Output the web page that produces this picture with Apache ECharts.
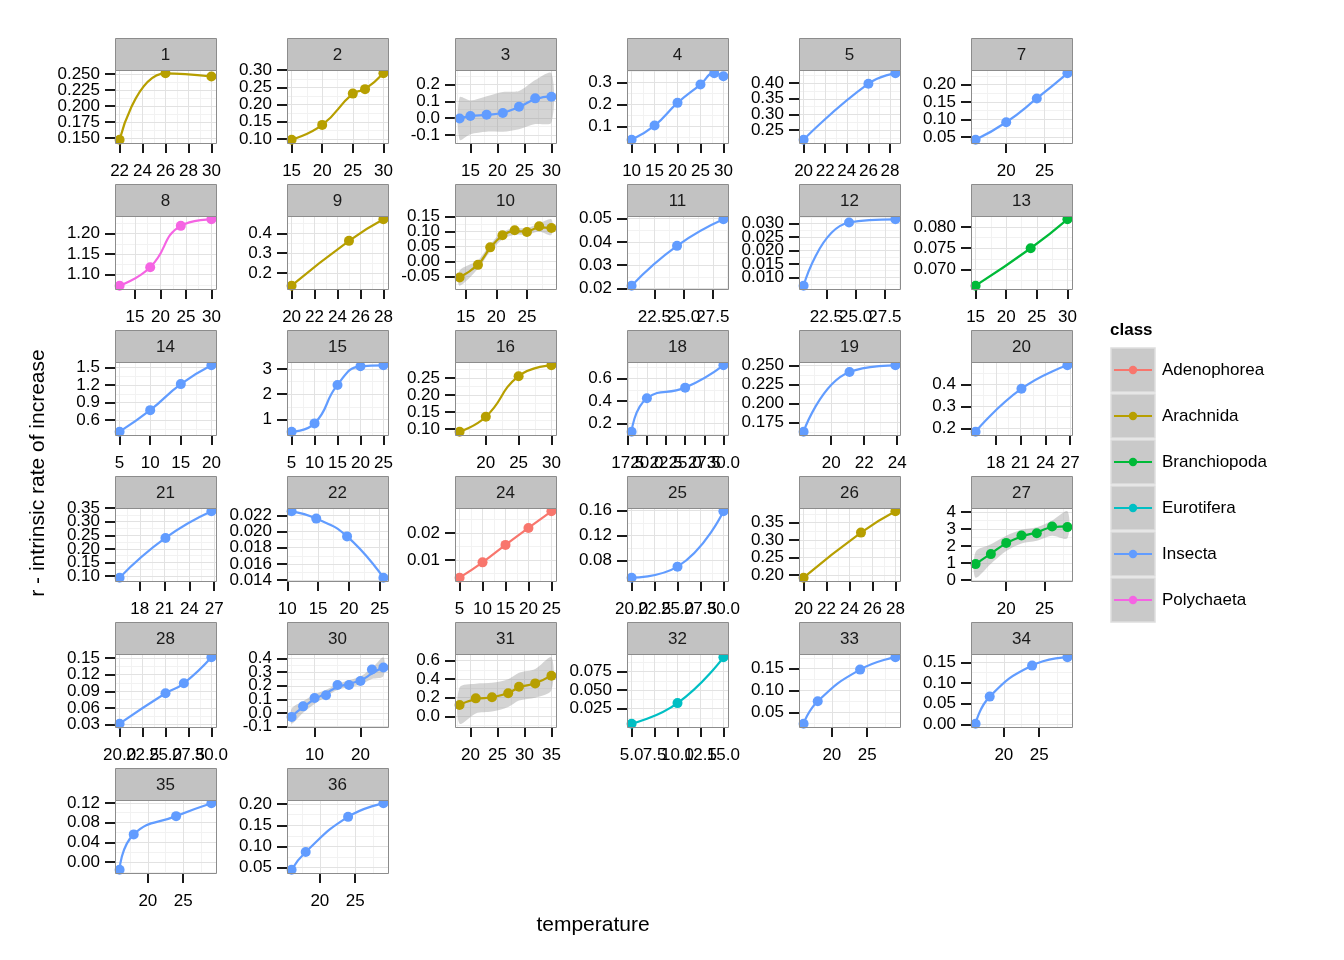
<!DOCTYPE html>
<html><head><meta charset="utf-8">
<script src="https://cdn.jsdelivr.net/npm/echarts@6/dist/echarts.min.js"></script>
<style>html,body{margin:0;padding:0;background:#fff}#c{width:1344px;height:960px}</style>
</head><body><div id="c"></div>
<script>
// ---------------- DATA ----------------
const panelIds = [1,2,3,4,5,7,8,9,10,11,12,13,14,15,16,18,19,20,21,22,24,25,26,27,28,30,31,32,33,34,35,36];
const panelClass = ['Arachnida','Arachnida','Insecta','Insecta','Insecta','Insecta',
  'Polychaeta','Arachnida','Arachnida','Insecta','Insecta','Branchiopoda',
  'Insecta','Insecta','Arachnida','Insecta','Insecta','Insecta',
  'Insecta','Insecta','Adenophorea','Insecta','Arachnida','Branchiopoda',
  'Insecta','Insecta','Arachnida','Eurotifera','Insecta','Insecta',
  'Insecta','Insecta'];
const classNames = ['Adenophorea','Arachnida','Branchiopoda','Eurotifera','Insecta','Polychaeta'];
const classColors = ['#F8766D','#B79F00','#00BA38','#00BFC4','#619CFF','#F564E3'];

const temperature = [
  [22,26,30],
  [15,20,25,27,30],
  [13,15,18,21,24,27,30],
  [10,15,20,25,28,30],
  [20,26,28.5],
  [16,20,24,28],
  [12,18,24,30],
  [20,25,28],
  [14,17,19,21,23,25,27,29],
  [20.56,24.44,28.4],
  [20.56,24.44,28.4],
  [15,24,30],
  [5,10,15,20],
  [5,10,15,20,25],
  [16,20,25,30],
  [18,20,25,30],
  [18.33,21.11,23.89],
  [15.56,21.11,26.67],
  [15.56,21.11,26.67],
  [10.7,14.7,19.7,25.6],
  [5,10,15,20,25],
  [20,25,30],
  [20,25,28],
  [16,18,20,22,24,26,28],
  [20,25,27,30],
  [5,7.5,10,12.5,15,17.5,20,22.5,25],
  [18,21,24,27,29,32,35],
  [5,10,15],
  [16,18,24,29],
  [16,18,24,29],
  [16,18,24,29],
  [16,18,24,29]
];
const rate = [
  [0.1475,0.251,0.246],
  [0.098,0.141,0.232,0.245,0.291],
  [-0.002,0.013,0.021,0.031,0.067,0.117,0.127],
  [0.040,0.104,0.207,0.290,0.341,0.328],
  [0.220,0.398,0.431],
  [0.042,0.092,0.160,0.232],
  [1.073,1.118,1.219,1.235],
  [0.137,0.362,0.470],
  [-0.053,-0.011,0.047,0.087,0.104,0.098,0.117,0.111],
  [0.0212,0.0383,0.0497],
  [0.0069,0.0304,0.0316],
  [0.0662,0.0750,0.0818],
  [0.40,0.77,1.217,1.54],
  [0.51,0.84,2.37,3.11,3.15],
  [0.092,0.136,0.255,0.287],
  [0.125,0.424,0.520,0.720],
  [0.1627,0.2412,0.250],
  [0.185,0.380,0.486],
  [0.094,0.240,0.338],
  [0.0225,0.0216,0.0194,0.0143],
  [0.0034,0.0091,0.0156,0.0219,0.0281],
  [0.0526,0.0703,0.159],
  [0.192,0.321,0.382],
  [0.93,1.52,2.18,2.61,2.75,3.15,3.11],
  [0.0318,0.0864,0.1043,0.151],
  [-0.03,0.048,0.11,0.13,0.205,0.205,0.235,0.32,0.335],
  [0.122,0.193,0.204,0.247,0.318,0.354,0.436],
  [0.0049,0.0326,0.0942],
  [0.025,0.076,0.148,0.176],
  [0.0016,0.067,0.142,0.162],
  [-0.0156,0.056,0.093,0.119],
  [0.045,0.087,0.170,0.202]
];

// panels with a smoothed fit and confidence ribbon
const ribbonPanels = [3,10,27,30,31];
const fitted = [
  [-0.002,0.012,0.020,0.032,0.066,0.112,0.130],
  [-0.052,-0.010,0.045,0.085,0.100,0.100,0.113,0.110],
  [0.93,1.55,2.15,2.55,2.80,3.10,3.15],
  [-0.025,0.0425,0.100,0.145,0.190,0.215,0.240,0.290,0.340],
  [0.125,0.185,0.205,0.250,0.310,0.355,0.440]
];
const bandLow = [
  [-0.127,-0.095,-0.080,-0.080,-0.065,-0.035,-0.025],
  [-0.080,-0.024,0.033,0.073,0.089,0.089,0.100,0.088],
  [0.13,0.95,1.70,2.15,2.30,2.60,2.45],
  [-0.080,0.000,0.065,0.120,0.168,0.190,0.210,0.250,0.270],
  [-0.080,0.030,0.050,0.100,0.170,0.200,0.280]
];
const bandHigh = [
  [0.123,0.105,0.130,0.155,0.160,0.225,0.265],
  [-0.030,0.004,0.057,0.097,0.111,0.111,0.126,0.140],
  [1.65,2.10,2.60,2.95,3.10,3.50,4.04],
  [0.030,0.085,0.135,0.170,0.212,0.240,0.270,0.330,0.410],
  [0.310,0.350,0.360,0.400,0.470,0.510,0.635]
];

const xTickLabels = [
  ['22','24','26','28','30'],
  ['15','20','25','30'],
  ['15','20','25','30'],
  ['10','15','20','25','30'],
  ['20','22','24','26','28'],
  ['20','25'],
  ['15','20','25','30'],
  ['20','22','24','26','28'],
  ['15','20','25'],
  ['22.5','25.0','27.5'],
  ['22.5','25.0','27.5'],
  ['15','20','25','30'],
  ['5','10','15','20'],
  ['5','10','15','20','25'],
  ['20','25','30'],
  ['17.5','20.0','22.5','25.0','27.5','30.0'],
  ['20','22','24'],
  ['18','21','24','27'],
  ['18','21','24','27'],
  ['10','15','20','25'],
  ['5','10','15','20','25'],
  ['20.0','22.5','25.0','27.5','30.0'],
  ['20','22','24','26','28'],
  ['20','25'],
  ['20.0','22.5','25.0','27.5','30.0'],
  ['10','20'],
  ['20','25','30','35'],
  ['5.0','7.5','10.0','12.5','15.0'],
  ['20','25'],
  ['20','25'],
  ['20','25'],
  ['20','25']
];
const yTickLabels = [
  ['0.150','0.175','0.200','0.225','0.250'],
  ['0.10','0.15','0.20','0.25','0.30'],
  ['-0.1','0.0','0.1','0.2'],
  ['0.1','0.2','0.3'],
  ['0.25','0.30','0.35','0.40'],
  ['0.05','0.10','0.15','0.20'],
  ['1.10','1.15','1.20'],
  ['0.2','0.3','0.4'],
  ['-0.05','0.00','0.05','0.10','0.15'],
  ['0.02','0.03','0.04','0.05'],
  ['0.010','0.015','0.020','0.025','0.030'],
  ['0.070','0.075','0.080'],
  ['0.6','0.9','1.2','1.5'],
  ['1','2','3'],
  ['0.10','0.15','0.20','0.25'],
  ['0.2','0.4','0.6'],
  ['0.175','0.200','0.225','0.250'],
  ['0.2','0.3','0.4'],
  ['0.10','0.15','0.20','0.25','0.30','0.35'],
  ['0.014','0.016','0.018','0.020','0.022'],
  ['0.01','0.02'],
  ['0.08','0.12','0.16'],
  ['0.20','0.25','0.30','0.35'],
  ['0','1','2','3','4'],
  ['0.03','0.06','0.09','0.12','0.15'],
  ['-0.1','0.0','0.1','0.2','0.3','0.4'],
  ['0.0','0.2','0.4','0.6'],
  ['0.025','0.050','0.075'],
  ['0.05','0.10','0.15'],
  ['0.00','0.05','0.10','0.15'],
  ['0.00','0.04','0.08','0.12'],
  ['0.05','0.10','0.15','0.20']
];

// ---------------- LAYOUT / STYLE ----------------
const COL_LEFT = [115,287,455,627,799,971];
const ROW_TOP = [70,216,362,508,654,800];
const PW = 101, PH = 73, STRIP_H = 32;
const FONT = '"Liberation Sans", Arial, Helvetica, sans-serif';
const TICK_FS = 17;
const RIBBON_FILL = 'rgba(153,153,153,0.42)';

function expand(vals){
  const mn = Math.min(...vals), mx = Math.max(...vals), r = (mx - mn) || 1;
  return [mn - 0.05*r, mx + 0.05*r];
}
function minorValues(ticks, lo, hi){
  const s = ticks[1] - ticks[0], out = [];
  for (let k = 0; k <= ticks.length; k++){
    const v = +(ticks[0] - s/2 + k*s).toFixed(10);
    if (v >= lo && v <= hi) out.push(v);
  }
  return out;
}
function labelFmt(labels){
  return v => { for (const l of labels){ if (Math.abs(Number(l) - v) < 1e-9) return l; } return ''; };
}
// the axis ends carry empty placeholder labels/ticks which ECharts' min/max
// label rule hides, so that every real tick label is kept (as in the reference)
function withEnds(vals, ext){ return [ext[0]].concat(vals, [ext[1]]); }

const grids = [], xAxes = [], yAxes = [], series = [], elements = [];

panelIds.forEach((id, i) => {
  const col = i % 6, row = Math.floor(i / 6);
  const L = COL_LEFT[col], T = ROW_TOP[row];
  const color = classColors[classNames.indexOf(panelClass[i])];
  const xs = temperature[i], ys = rate[i];
  const ri = ribbonPanels.indexOf(id);
  const lineY = ri >= 0 ? fitted[ri] : ys;
  let yAll = ys.concat(lineY);
  if (ri >= 0) yAll = yAll.concat(bandLow[ri], bandHigh[ri]);
  const xr = expand(xs), yr = expand(yAll);
  const xv = xTickLabels[i].map(Number), yv = yTickLabels[i].map(Number);
  const xm = minorValues(xv, xr[0], xr[1]), ym = minorValues(yv, yr[0], yr[1]);
  const xvE = withEnds(xv, xr), yvE = withEnds(yv, yr);

  grids.push({left: L, top: T, width: PW, height: PH, show: false, containLabel: false, outerBoundsMode: 'none'});
  const gi = grids.length - 1;

  // major axes
  xAxes.push({type: 'value', gridIndex: gi, min: xr[0], max: xr[1], position: 'bottom', z: 1,
    axisLine: {show: false, onZero: false},
    axisTick: {show: true, inside: false, length: 10, customValues: xvE, lineStyle: {color: '#1a1a1a', width: 2}},
    axisLabel: {show: true, customValues: xvE, showMinLabel: false, showMaxLabel: false,
      formatter: labelFmt(xTickLabels[i]), color: '#000', fontSize: TICK_FS, fontFamily: FONT, margin: 20, hideOverlap: false},
    splitLine: {show: true, lineStyle: {color: '#e2e2e2', width: 1}}});
  yAxes.push({type: 'value', gridIndex: gi, min: yr[0], max: yr[1], position: 'left', z: 1,
    axisLine: {show: false, onZero: false},
    axisTick: {show: true, inside: false, length: 10, customValues: yvE, lineStyle: {color: '#1a1a1a', width: 2}},
    axisLabel: {show: true, customValues: yvE, showMinLabel: false, showMaxLabel: false,
      formatter: labelFmt(yTickLabels[i]), color: '#000', fontSize: TICK_FS, fontFamily: FONT, margin: 15, hideOverlap: false},
    splitLine: {show: true, lineStyle: {color: '#e2e2e2', width: 1}}});
  const xa = xAxes.length - 1, ya = yAxes.length - 1;
  // minor grid axes
  xAxes.push({type: 'value', gridIndex: gi, min: xr[0], max: xr[1], position: 'top', z: 0,
    axisLine: {show: false, onZero: false}, axisTick: {show: false, customValues: xm},
    axisLabel: {show: false, customValues: xm}, splitLine: {show: true, lineStyle: {color: '#f2f2f2', width: 1}}});
  yAxes.push({type: 'value', gridIndex: gi, min: yr[0], max: yr[1], position: 'right', z: 0,
    axisLine: {show: false, onZero: false}, axisTick: {show: false, customValues: ym},
    axisLabel: {show: false, customValues: ym}, splitLine: {show: true, lineStyle: {color: '#f2f2f2', width: 1}}});

  if (ri >= 0){
    const lo = bandLow[ri], hi = bandHigh[ri];
    series.push({type: 'custom', xAxisIndex: xa, yAxisIndex: ya, silent: true, z: 2, clip: true,
      data: xs.map((x, k) => [x, lo[k], hi[k]]),
      encode: {x: 0, y: [1, 2]},
      renderItem: (params, api) => {
        if (params.dataIndex !== 0) return null;
        const up = xs.map((x, k) => api.coord([x, hi[k]]));
        const dn = xs.map((x, k) => api.coord([x, lo[k]])).reverse();
        return {type: 'polygon', shape: {points: up.concat(dn), smooth: 0.3},
          style: {fill: RIBBON_FILL, stroke: null}};
      }});
  }
  series.push({type: 'line', xAxisIndex: xa, yAxisIndex: ya, data: xs.map((x, k) => [x, lineY[k]]),
    smooth: 0.5, symbol: 'none', lineStyle: {color: color, width: 2.2}, z: 3, silent: true});
  series.push({type: 'scatter', xAxisIndex: xa, yAxisIndex: ya, data: xs.map((x, k) => [x, ys[k]]),
    symbol: 'circle', symbolSize: 10, itemStyle: {color: color, opacity: 1}, z: 4, silent: true, clip: true});

  // strip
  elements.push({type: 'rect', shape: {x: L + 0.5, y: T - STRIP_H + 0.5, width: PW, height: STRIP_H},
    style: {fill: '#c2c2c2', stroke: '#8c8c8c', lineWidth: 1}, z: 20, silent: true});
  elements.push({type: 'text', x: L + PW/2, y: T - STRIP_H/2 + 1, z: 21, silent: true,
    style: {text: String(id), fill: '#1a1a1a', fontSize: 17, fontFamily: FONT, align: 'center', verticalAlign: 'middle'}});
  // panel border
  elements.push({type: 'rect', shape: {x: L + 0.5, y: T + 0.5, width: PW, height: PH},
    style: {fill: null, stroke: '#8c8c8c', lineWidth: 1}, z: 20, silent: true});
});

// legend (drawn)
elements.push({type: 'text', x: 1110, y: 330, z: 21, silent: true,
  style: {text: 'class', fill: '#000', fontSize: 17, fontWeight: 'bold', fontFamily: FONT, align: 'left', verticalAlign: 'middle'}});
classNames.forEach((name, k) => {
  const cy = 370 + 46*k;
  elements.push({type: 'rect', shape: {x: 1111, y: cy - 22, width: 44, height: 44},
    style: {fill: '#c9c9c9', stroke: '#dedede', lineWidth: 1.5}, z: 20, silent: true});
  elements.push({type: 'line', shape: {x1: 1114, y1: cy, x2: 1152, y2: cy},
    style: {stroke: classColors[k], lineWidth: 2.2}, z: 21, silent: true});
  elements.push({type: 'circle', shape: {cx: 1133, cy: cy, r: 4.2},
    style: {fill: classColors[k]}, z: 22, silent: true});
  elements.push({type: 'text', x: 1162, y: cy, z: 21, silent: true,
    style: {text: name, fill: '#000', fontSize: 17, fontFamily: FONT, align: 'left', verticalAlign: 'middle'}});
});
// axis titles
elements.push({type: 'text', x: 593, y: 925, z: 21, silent: true,
  style: {text: 'temperature', fill: '#000', fontSize: 21, fontFamily: FONT, align: 'center', verticalAlign: 'middle'}});
elements.push({type: 'text', x: 38, y: 473, rotation: Math.PI/2, z: 21, silent: true,
  style: {text: 'r - intrinsic rate of increase', fill: '#000', fontSize: 21, fontFamily: FONT, align: 'center', verticalAlign: 'middle'}});

const chart = echarts.init(document.getElementById('c'), null, {renderer: 'canvas', width: 1344, height: 960});
chart.setOption({
  animation: false,
  backgroundColor: '#ffffff',
  grid: grids,
  xAxis: xAxes,
  yAxis: yAxes,
  series: series,
  graphic: {elements: elements}
});
</script>
</body></html>
